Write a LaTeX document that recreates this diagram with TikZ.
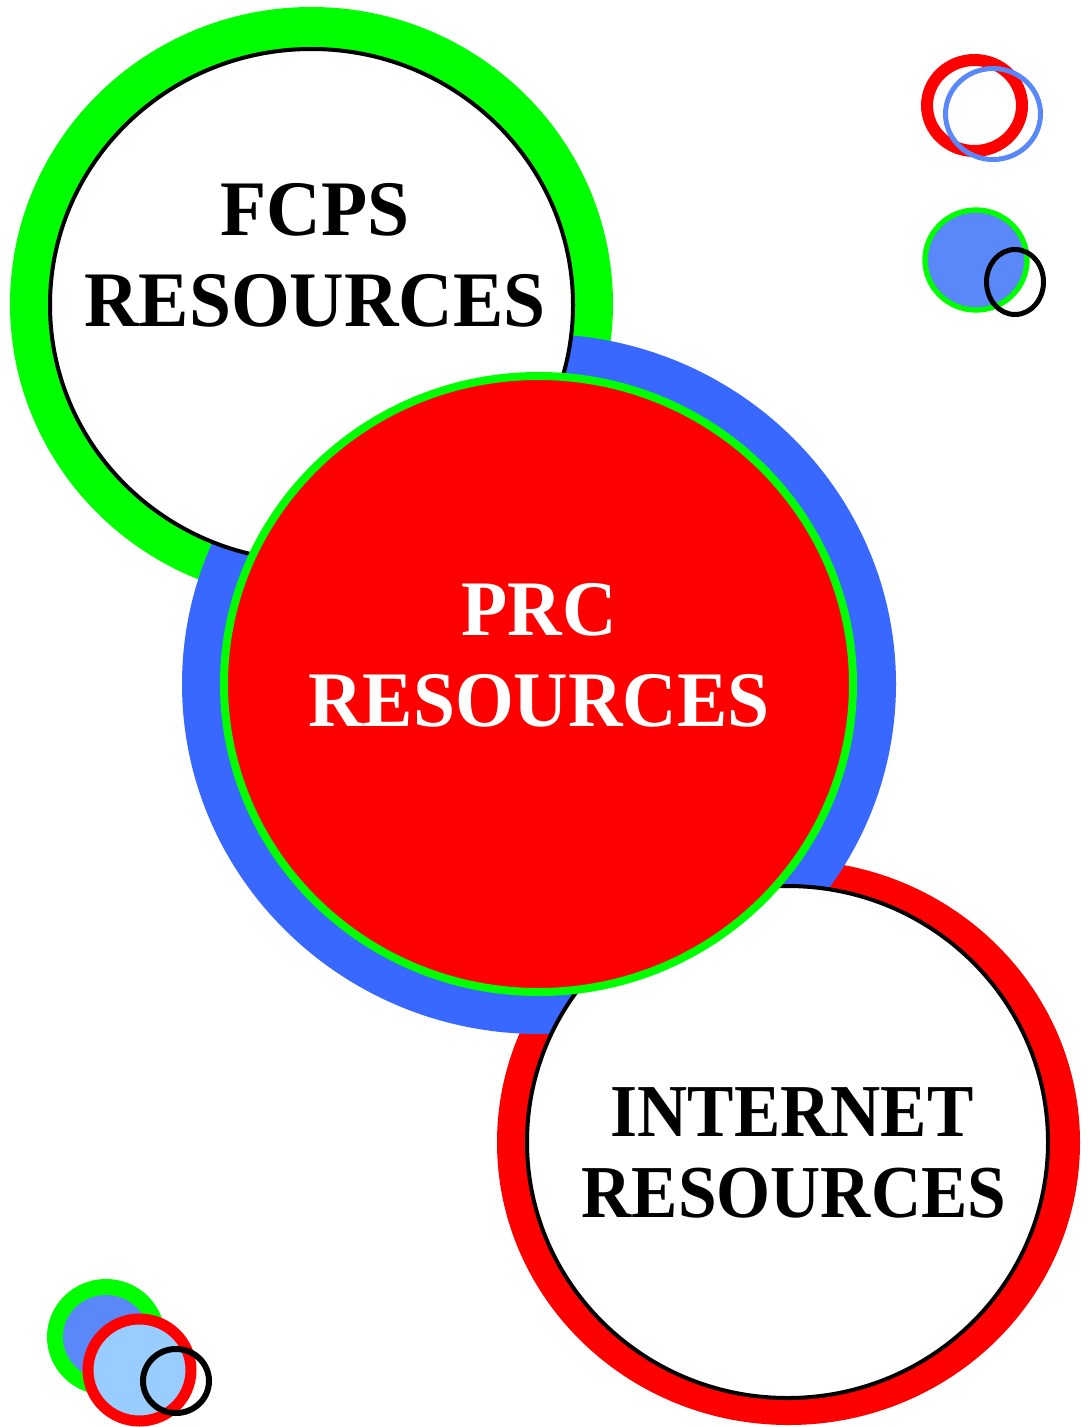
\documentclass[tikz,border=0pt]{standalone}
\usepackage{fontspec}
\setmainfont{Liberation Serif}
\usepackage{graphicx}
\definecolor{cgreen}{HTML}{00FF00}
\definecolor{cblue}{HTML}{3868FF}
\definecolor{cred}{HTML}{FF0000}
\definecolor{csmallblue}{HTML}{5B88F8}
\definecolor{clightblue}{HTML}{99CCFF}
\begin{document}
\begin{tikzpicture}[x=0.75pt,y=-0.75pt,
  lbl/.style={anchor=base,inner sep=0pt,outer sep=0pt},
  bigfont/.style={font=\fontsize{59}{60}\selectfont\bfseries},
  netfont/.style={font=\fontsize{56}{57}\selectfont\bfseries}]
\useasboundingbox (0,0) rectangle (1088,1427);
% outer rings
\fill[cgreen] (311.5,304) ellipse [x radius=301.5, y radius=297];
\fill[cred] (788.5,1142.5) ellipse [x radius=291.5, y radius=282.5];
\fill[cblue] (539,684) ellipse [x radius=357, y radius=350];
% inner discs
\filldraw[fill=white,draw=black,line width=3pt] (311.5,305) ellipse [x radius=261.5, y radius=256];
\filldraw[fill=white,draw=black,line width=3pt] (787.5,1142) ellipse [x radius=260.5, y radius=256];
\filldraw[fill=cred,draw=cgreen,line width=6pt] (538.5,684) ellipse [x radius=314.5, y radius=308];
% labels
\node[lbl,bigfont] (fcpsA) at (315,235) {\scalebox{0.96}[1]{FCPS}};
\node[lbl,bigfont] (fcpsB) at (315,326) {\scalebox{0.96}[1]{RESOURCES}};
\node[lbl,bigfont,text=white] (prcA) at (539,635) {\scalebox{0.96}[1]{PRC}};
\node[lbl,bigfont,text=white] (prcB) at (539,726) {\scalebox{0.96}[1]{RESOURCES}};
\node[lbl,netfont] (netA) at (792,1136) {\scalebox{0.93}[1]{INTERNET}};
\node[lbl,netfont] (netB) at (794,1217) {\scalebox{0.93}[1]{RESOURCES}};
% small decorations top right
\draw[cred,line width=9pt] (974.5,105.5) ellipse [x radius=47.5, y radius=45.5];
\draw[csmallblue,line width=3.75pt] (993,114) ellipse [x radius=47.5, y radius=45.5];
\filldraw[fill=csmallblue,draw=cgreen,line width=4pt] (976,260) ellipse [x radius=51, y radius=50];
\draw[black,line width=3.75pt] (1015,282) ellipse [x radius=28.5, y radius=32.5];
% small decorations bottom left
\fill[cgreen] (106,1337) ellipse [x radius=59, y radius=58];
\fill[csmallblue] (106,1337) ellipse [x radius=43, y radius=42];
\filldraw[fill=clightblue,draw=cred,line width=8.25pt] (139.5,1370) ellipse [x radius=51.5, y radius=51];
\draw[black,line width=4.5pt] (176,1381) ellipse [x radius=33, y radius=32];
\end{tikzpicture}
\end{document}
